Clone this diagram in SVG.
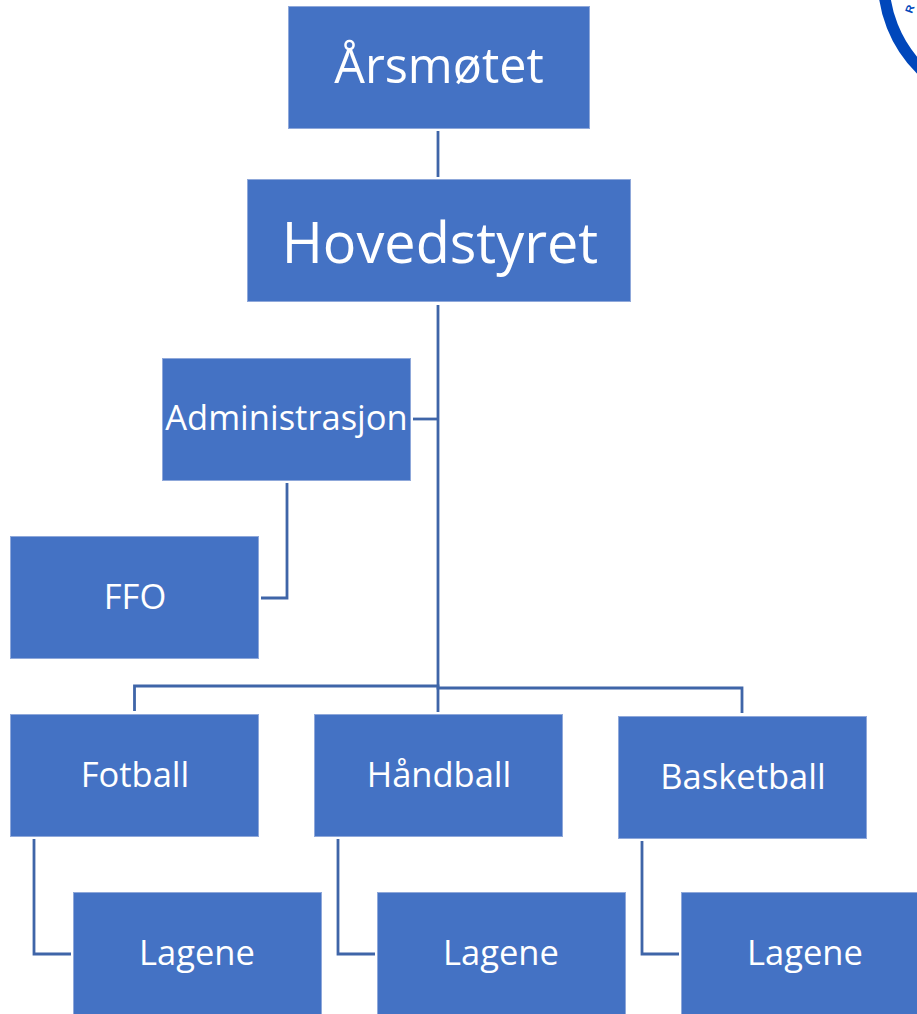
<svg xmlns="http://www.w3.org/2000/svg" width="917" height="1014" viewBox="0 0 917 1014">
<style>
.n{fill:#4472c4;stroke:#8fa8da;stroke-width:1}
.t{fill:#fff;font-family:"Open Sans","Noto Sans","Liberation Sans",sans-serif;text-anchor:middle}
.s{font-size:34.500px}
.c{fill:none;stroke:#3f65a8;stroke-width:2.800}
</style>
<rect width="917" height="1014" fill="#fff"/>
<g id="logo"><circle cx="1009" cy="-20" r="125.500" fill="none" stroke="#0047bb" stroke-width="11.500"/>
<text transform="translate(912,14) rotate(-70)" font-family="Liberation Sans,sans-serif" font-size="11" font-weight="bold" fill="#0047bb">R</text></g>
<g id="connectors">
<path class="c" d="M438 131V177"/>
<path class="c" d="M438 305V712"/>
<path class="c" d="M413 419H438"/>
<path class="c" d="M287 483V598H261"/>
<path class="c" d="M134.500 711V686H438V688H742V713"/>
<path class="c" d="M34 839V954H71"/>
<path class="c" d="M338 839V954H375"/>
<path class="c" d="M642 841V954H679"/>
</g>
<g id="arsmotet"><rect class="n" x="288.500" y="6.500" width="301" height="122"/><text class="t" x="439" y="83" font-size="48.500">Årsmøtet</text></g>
<g id="hovedstyret"><rect class="n" x="247.500" y="179.500" width="383" height="122"/><text class="t" x="440" y="263" font-size="55.800">Hovedstyret</text></g>
<g id="administrasjon"><rect class="n" x="162.500" y="358.500" width="248" height="122"/><text class="t s" x="286.500" y="430">Administrasjon</text></g>
<g id="ffo"><rect class="n" x="10.500" y="536.500" width="248" height="122"/><text class="t s" x="135" y="609">FFO</text></g>
<g id="fotball"><rect class="n" x="10.500" y="714.500" width="248" height="122"/><text class="t s" x="135" y="787">Fotball</text></g>
<g id="handball"><rect class="n" x="314.500" y="714.500" width="248" height="122"/><text class="t s" x="439" y="787">Håndball</text></g>
<g id="basketball"><rect class="n" x="618.500" y="716.500" width="248" height="122"/><text class="t s" x="743" y="789">Basketball</text></g>
<g id="lagene1"><rect class="n" x="73.500" y="892.500" width="248" height="123"/><text class="t s" x="197" y="965">Lagene</text></g>
<g id="lagene2"><rect class="n" x="377.500" y="892.500" width="248" height="123"/><text class="t s" x="501" y="965">Lagene</text></g>
<g id="lagene3"><rect class="n" x="681.500" y="892.500" width="248" height="123"/><text class="t s" x="805" y="965">Lagene</text></g>
</svg>
